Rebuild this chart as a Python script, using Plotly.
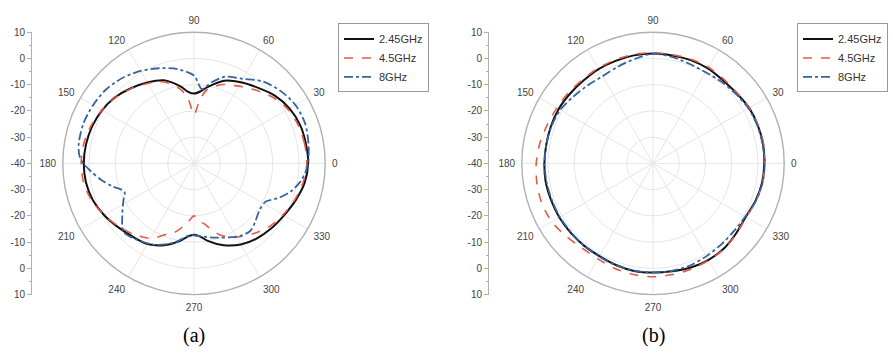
import plotly.graph_objects as go

# ---------------- data ----------------
SERIES_NAMES = ["2.45GHz", "4.5GHz", "8GHz"]

# panel (a)
A_245_THETA = [0, 10, 20, 30, 40, 50, 60, 70, 80, 85, 90, 95, 100, 110, 120, 130, 140, 150, 160, 170,
               180, 190, 200, 210, 220, 230, 240, 250, 260, 265, 270, 275, 280, 290, 300, 310, 320, 330,
               340, 350, 360]
A_245_DB = [3.5, 3.3, 3.0, 2.0, 0.2, -2.3, -4.3, -6.5, -10.5, -12.5, -13.4, -12.5, -10.2, -6.3, -4.4,
            -2.6, -0.8, 0.5, 1.3, 1.8, 2.0, 1.8, 1.0, -0.5, -2.2, -3.6, -4.5, -6.8, -10.0, -12.0, -12.8,
            -12.0, -10.0, -6.8, -4.3, -2.7, -1.5, -0.4, 1.2, 2.8, 3.5]

A_45_THETA = [0, 10, 20, 30, 40, 50, 60, 70, 80, 85, 90, 95, 100, 110, 120, 130, 140, 150, 160, 170,
              180, 190, 200, 210, 220, 230, 240, 250, 255, 260, 265, 270, 275, 280, 285, 290, 295, 300,
              310, 320, 330, 340, 350, 360]
A_45_DB = [3.0, 2.8, 2.3, 1.3, -0.8, -3.5, -6.0, -8.0, -11.5, -16.0, -21.5, -15.5, -11.5, -7.0, -4.8,
           -2.8, -1.0, 0.6, 1.8, 2.7, 3.0, 2.7, 1.5, -0.5, -2.6, -4.6, -7.0, -11.5, -13.0, -15.5, -18.0,
           -20.0, -18.0, -16.5, -13.7, -11.0, -9.1, -7.5, -5.0, -2.5, -0.8, 0.8, 2.2, 3.0]

A_8_THETA = [0, 10, 20, 30, 40, 50, 60, 70, 78, 84, 90, 100, 110, 120, 130, 140, 150, 160, 170, 176,
             180, 184, 190, 196, 202, 208, 216, 224, 232, 244, 256, 267, 275, 287, 302, 310, 316, 325,
             332, 338, 344, 350, 355, 360]
A_8_DB = [3.5, 4.3, 5.0, 4.6, 3.0, 0.8, -2.8, -4.8, -8.5, -11.5, -6.5, -3.5, -1.4, 0.7, 2.5, 3.8, 4.4,
          4.8, 4.6, 3.8, 2.2, -0.4, -4.0, -7.9, -11.4, -9.5, -6.2, -2.6, -3.5, -5.5, -8.9, -12.6, -12.1,
          -10.4, -7.3, -6.5, -7.7, -9.4, -9.0, -5.0, -1.5, 1.0, 2.5, 3.5]

# panel (b)
B_THETA = [0, 10, 20, 30, 40, 50, 60, 70, 80, 90, 100, 110, 120, 130, 140, 150, 160, 170, 180, 190,
           200, 210, 220, 230, 240, 250, 260, 270, 280, 290, 300, 310, 320, 330, 340, 350, 360]
B_245_DB = [2.4, 2.6, 2.5, 2.3, 1.6, 1.4, 1.8, 1.9, 1.8, 1.9, 1.8, 1.6, 1.5, 1.2, 1.3, 1.5, 1.4, 1.3,
            1.4, 1.5, 1.3, 1.2, 1.0, 0.9, 0.8, 1.2, 1.6, 1.6, 1.7, 2.2, 2.4, 2.2, 1.4, 0.8, 1.6, 2.2, 2.4]
B_45_DB = [2.6, 2.8, 2.6, 2.4, 1.8, 1.9, 2.3, 2.2, 2.1, 2.2, 2.2, 2.0, 1.9, 1.7, 2.0, 2.3, 2.9, 3.8,
           4.5, 4.9, 5.0, 4.5, 3.2, 2.1, 2.0, 2.6, 3.0, 3.2, 3.0, 2.8, 2.6, 2.4, 1.6, 1.0, 1.8, 2.4, 2.6]
B_8_DB = [2.6, 2.4, 2.3, 2.0, 1.2, 0.6, 0.1, 0.4, 1.2, 1.8, 0.4, -0.8, -1.6, -1.2, -0.4, 0.8, 1.2, 1.3,
          1.3, 1.2, 1.0, 1.0, 0.8, 0.9, 1.0, 1.3, 1.5, 1.6, 1.6, 1.4, 0.8, 0.4, 0.2, 0.6, 1.7, 2.4, 2.6]

ANGLE_TICKS = [0, 30, 60, 90, 120, 150, 180, 210, 240, 270, 300, 330]
ANGLE_LABELS = ["0", "30", "60", "90", "120", "150", "180", "210", "240", "270", "300", "330"]
R_MIN, R_MAX = -40, 10
SIDE_AXIS_VALUES = [10, 0, -10, -20, -30, -40, -30, -20, -10, 0, 10]
SIDE_AXIS_LABELS = ["10", "0", "-10", "-20", "-30", "-40", "-30", "-20", "-10", "0", "10"]
CAPTIONS = ["(a)", "(b)"]

# ---------------- style ----------------
W, H = 893, 355
COLORS = ["#111111", "#e45a48", "#33659c"]
DASHES = ["solid", "dash", "dashdot"]
WIDTHS = [2.0, 1.6, 1.8]
GRID = "#e6e6e6"
AXC = "#b0b0b0"
TXT = "#444444"
FONT = "Liberation Sans"

R_PX = 135
CENTERS = [(194, 163), (653, 163)]
SIDE_AXIS_X = [31, 488]
LEGEND_POS = [(338, 19), (797, 19)]

fig = go.Figure()

panels = [
    [(A_245_THETA, A_245_DB), (A_45_THETA, A_45_DB), (A_8_THETA, A_8_DB)],
    [(B_THETA, B_245_DB), (B_THETA, B_45_DB), (B_THETA, B_8_DB)],
]

for p, series in enumerate(panels):
    sub = "polar" if p == 0 else "polar2"
    leg = "legend" if p == 0 else "legend2"
    for i, (th, r) in enumerate(series):
        fig.add_trace(go.Scatterpolar(
            theta=th, r=r, mode="lines", name=SERIES_NAMES[i],
            line=dict(color=COLORS[i], dash=DASHES[i], width=WIDTHS[i], shape="spline", smoothing=0.8),
            subplot=sub, legend=leg, hoverinfo="skip"))

# empty carriers so the side scales (cartesian axes) are drawn
fig.add_trace(go.Scatter(x=[], y=[], xaxis="x", yaxis="y", showlegend=False, hoverinfo="skip"))
fig.add_trace(go.Scatter(x=[], y=[], xaxis="x", yaxis="y2", showlegend=False, hoverinfo="skip"))

layout = dict(width=W, height=H, margin=dict(l=0, r=0, t=0, b=0),
              paper_bgcolor="white", plot_bgcolor="rgba(0,0,0,0)",
              font=dict(family=FONT, color=TXT, size=10))

annotations = []
dom_y = [(H - (CENTERS[0][1] + R_PX)) / H, (H - (CENTERS[0][1] - R_PX)) / H]
for p, (cx, cy) in enumerate(CENTERS):
    key = "polar" if p == 0 else "polar2"
    layout[key] = dict(
        domain=dict(x=[(cx - R_PX) / W, (cx + R_PX) / W],
                    y=[(H - (cy + R_PX)) / H, (H - (cy - R_PX)) / H]),
        bgcolor="rgba(0,0,0,0)",
        radialaxis=dict(range=[R_MIN, R_MAX], tick0=R_MIN, dtick=10, showticklabels=False,
                        ticks="", showline=False, gridcolor=GRID, gridwidth=1, angle=0),
        angularaxis=dict(rotation=0, direction="counterclockwise", tickmode="array",
                         tickvals=ANGLE_TICKS, ticktext=ANGLE_LABELS, ticks="outside", ticklen=4,
                         tickcolor="rgba(0,0,0,0)", showline=True, linecolor=AXC, linewidth=1.4,
                         gridcolor=GRID, gridwidth=1,
                         tickfont=dict(size=10, color=TXT, family=FONT)),
    )
    legkey = "legend" if p == 0 else "legend2"
    lx, ly = LEGEND_POS[p]
    layout[legkey] = dict(x=lx / W, y=1 - ly / H, xanchor="left", yanchor="top",
                          bordercolor="#999999", borderwidth=1, bgcolor="rgba(255,255,255,0.6)",
                          font=dict(size=11, color="#333333", family=FONT),
                          tracegroupgap=0, itemwidth=30)
    annotations.append(dict(text=CAPTIONS[p], x=cx / W, y=1 - 340 / H, xref="paper", yref="paper",
                            showarrow=False, xanchor="center", yanchor="middle",
                            font=dict(family="Liberation Serif", size=20, color="#000000")))

# side radial scales
side_pos = [v - R_MIN for v in SIDE_AXIS_VALUES]
side_pos = [s if k < len(side_pos) // 2 else -s for k, s in enumerate(side_pos)]
half = R_MAX - R_MIN
yax_common = dict(domain=dom_y, range=[-half, half], tickmode="array", tickvals=side_pos,
                  ticktext=SIDE_AXIS_LABELS, showline=True, linecolor=AXC, linewidth=1,
                  ticks="outside", ticklen=4, tickcolor=AXC, showgrid=False, zeroline=False,
                  tickfont=dict(size=10, color=TXT, family=FONT),
                  minor=dict(ticks="outside", ticklen=2, tickcolor=AXC, tickmode="linear",
                             tick0=-half, dtick=5, showgrid=False),
                  anchor="free", fixedrange=True)
layout["xaxis"] = dict(visible=False, range=[0, 1], domain=[0, 1], fixedrange=True)
layout["yaxis"] = dict(yax_common, position=SIDE_AXIS_X[0] / W)
layout["yaxis2"] = dict(yax_common, position=SIDE_AXIS_X[1] / W, overlaying="y")

layout["annotations"] = annotations
fig.update_layout(**layout)
fig.write_html("out.html")
